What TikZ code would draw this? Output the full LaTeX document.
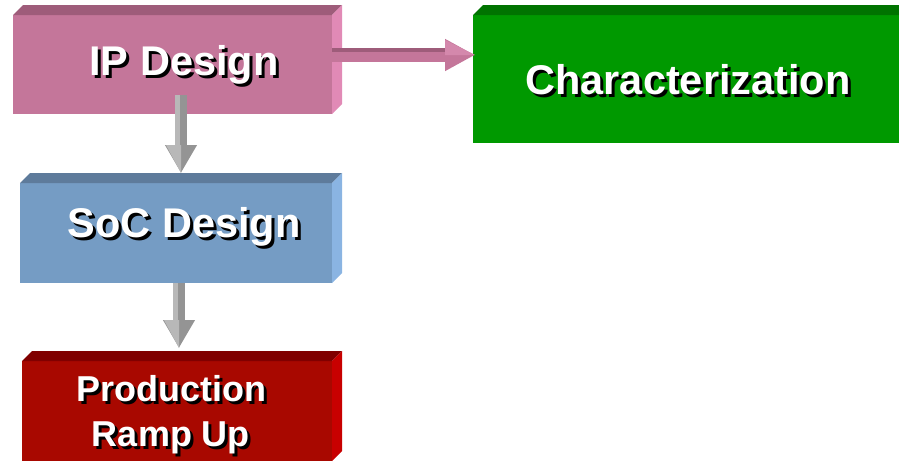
\documentclass[tikz,border=0pt]{standalone}
\usepackage{fontspec}
\setmainfont{Liberation Sans}
\usetikzlibrary{arrows.meta,calc}

\definecolor{ipFront}{RGB}{196,118,154}
\definecolor{ipTop}{RGB}{158,92,122}
\definecolor{ipSide}{RGB}{225,138,182}
\definecolor{ipHead}{RGB}{212,136,172}
\definecolor{socFront}{RGB}{117,156,196}
\definecolor{socTop}{RGB}{94,123,155}
\definecolor{socSide}{RGB}{138,180,226}
\definecolor{chFront}{RGB}{0,153,0}
\definecolor{chTop}{RGB}{0,115,0}
\definecolor{chSide}{RGB}{0,180,0}
\definecolor{prFront}{RGB}{168,8,0}
\definecolor{prTop}{RGB}{128,0,0}
\definecolor{prSide}{RGB}{200,0,0}
\definecolor{arrGray}{RGB}{148,148,148}
\definecolor{arrLight}{RGB}{184,184,184}

% white text with a dark drop shadow
\newcommand{\shtext}[1]{\makebox[0pt][l]{\hspace{3pt}\raisebox{-3pt}[0pt][0pt]{\color{black}#1}}#1}

\begin{document}
\begin{tikzpicture}[x=1pt,y=-1pt,
  box/.style={rectangle,inner sep=0pt,outer sep=0pt},
  lbl/.style={text=white,inner sep=0pt,align=center,font=\bfseries\fontsize{41.5}{46}\selectfont},
  grayarrow/.style={draw=arrGray,line width=12pt,-{Triangle[length=28pt,width=30pt]}},
  pinkarrow/.style={draw=ipFront,line width=14pt,-{Triangle[length=30pt,width=30pt]}}]
\useasboundingbox (0,0) rectangle (899,461);
% Boxes
\node[box,fill=ipFront,minimum width=319pt,minimum height=99pt] (ip) at (172.5,64.5) {};
\node[box,fill=chFront,minimum width=440pt,minimum height=128pt] (char) at (693,79) {};
\node[box,fill=socFront,minimum width=312pt,minimum height=100pt] (soc) at (176,233) {};
\node[box,fill=prFront,minimum width=310pt,minimum height=100pt] (prod) at (177,411) {};
% Bevels
\foreach \b/\t/\s in {ip/ipTop/ipSide, char/chTop/chSide, soc/socTop/socSide, prod/prTop/prSide} {
  \fill[\t] (\b.north west) -- ++(10,-10) -- ([shift={(10pt,10pt)}]\b.north east) -- (\b.north east) -- cycle;
  \fill[\s] (\b.north east) -- ++(10,-10) -- ([shift={(10pt,10pt)}]\b.south east) -- (\b.south east) -- cycle;
  \coordinate (\b top) at ([yshift=10pt]\b.north);
}
% Arrows
\coordinate (pa) at ([yshift=9.5pt]ip.east);
\coordinate (patip) at ([xshift=2pt]pa -| char.west);
\draw[pinkarrow] (pa) -- (patip);
\draw[ipTop,line width=4pt,shorten >=30pt,transform canvas={yshift=5pt}] (pa) -- (patip);
\fill[ipHead] (patip) -- ($(patip)+(-30,-15)$) -- ($(patip)+(-30,0)$) -- cycle;
\coordinate (ipout) at ([xshift=8.5pt,yshift=19pt]ip.south);
\coordinate (ipin) at (ipout |- soctop);
\draw[grayarrow] (ipout) -- (ipin);
\draw[arrLight,line width=5pt,shorten >=28pt,transform canvas={xshift=-3.5pt}] (ipout) -- (ipin);
\fill[arrLight] (ipin) -- ($(ipin)+(-15,-28)$) -- ($(ipin)+(0,-28)$) -- cycle;
\coordinate (socout) at ([xshift=3pt]soc.south);
\coordinate (socin) at ([yshift=3pt]socout |- prodtop);
\draw[grayarrow] (socout) -- (socin);
\draw[arrLight,line width=5pt,shorten >=28pt,transform canvas={xshift=-3.5pt}] (socout) -- (socin);
\fill[arrLight] (socin) -- ($(socin)+(-15,-28)$) -- ($(socin)+(0,-28)$) -- cycle;
% Labels
\node[lbl] (iptxt) at ($(ip)+(11.5,0)$) {\shtext{IP Design}};
\node[lbl] (chtxt) at ($(char)+(-5,1)$) {\shtext{Characterization}};
\node[lbl] (soctxt) at ($(soc)+(8,-5.7)$) {\shtext{SoC Design}};
\node[lbl,font=\bfseries\fontsize{36}{45}\selectfont] (prtxt) at ($(prod)+(-6,4)$) {\shtext{Production}\\\shtext{Ramp Up}};
\end{tikzpicture}
\end{document}
